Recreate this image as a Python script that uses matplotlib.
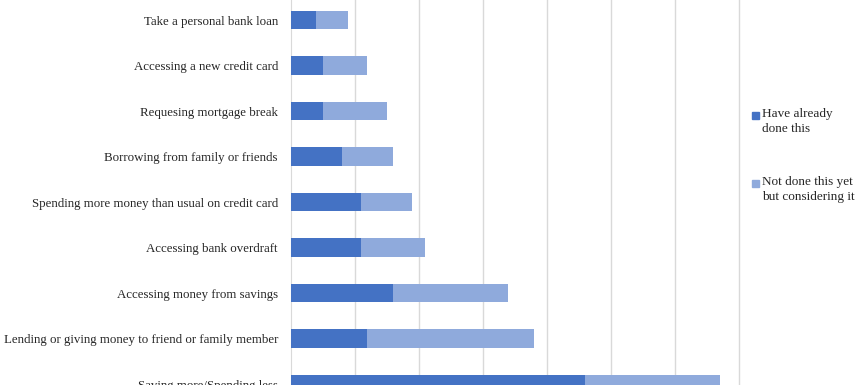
import numpy as np
import matplotlib
matplotlib.use("Agg")
import matplotlib.pyplot as plt
from matplotlib.patches import Rectangle

categories = [
    "Take a personal bank loan",
    "Accessing a new credit card",
    "Requesing mortgage break",
    "Borrowing from family or friends",
    "Spending more money than usual on credit card",
    "Accessing bank overdraft",
    "Accessing money from savings",
    "Lending or giving money to friend or family member",
    "Saving more/Spending less",
]
already_done = [2.0, 2.5, 2.5, 4.0, 5.5, 5.5, 8.0, 6.0, 23.0]
considering = [2.5, 3.5, 5.0, 4.0, 4.0, 5.0, 9.0, 13.0, 10.5]
series_names = ["Have already\ndone this", "Not done this yet\nbut considering it"]
colors = ["#4472C4", "#8FAADC"]

plt.rcParams["font.family"] = ["Liberation Serif", "DejaVu Serif"]

fig = plt.figure(figsize=(8.66, 3.85), dpi=100)
ax = fig.add_axes([290.5 / 866, 0, 451 / 866, 1])

y = np.arange(len(categories))
ax.barh(y, already_done, height=0.4, color=colors[0], zorder=3)
ax.barh(y, considering, left=already_done, height=0.4, color=colors[1], zorder=3)

ax.set_ylim(8.02, -0.44)
ax.set_xlim(0, 35.2)
ax.set_xticks(np.arange(5, 36, 5))
ax.xaxis.grid(True, color="#D9D9D9", linewidth=1)
ax.tick_params(axis="x", length=0, labelbottom=False)
ax.tick_params(axis="y", length=0, pad=9, labelsize=9.3, colors="#262626")
ax.set_yticks(y)
ax.set_yticklabels(categories)
for s in ["top", "right", "bottom"]:
    ax.spines[s].set_visible(False)
ax.spines["left"].set_color("#D9D9D9")

# legend, drawn by hand so the swatch sits on the first text line
leg_y = [115 / 385, 183 / 385]
for name, c, ly in zip(series_names, colors, leg_y):
    fig.add_artist(Rectangle((752 / 866, 1 - ly - 3.5 / 385), 7 / 866, 7 / 385,
                             transform=fig.transFigure, color=c))
    fig.text(762 / 866, 1 - ly + 7 / 385, name, fontsize=9.5, color="#262626",
             va="top", ha="left", linespacing=1.3)

fig.savefig("out.png", dpi=100)
